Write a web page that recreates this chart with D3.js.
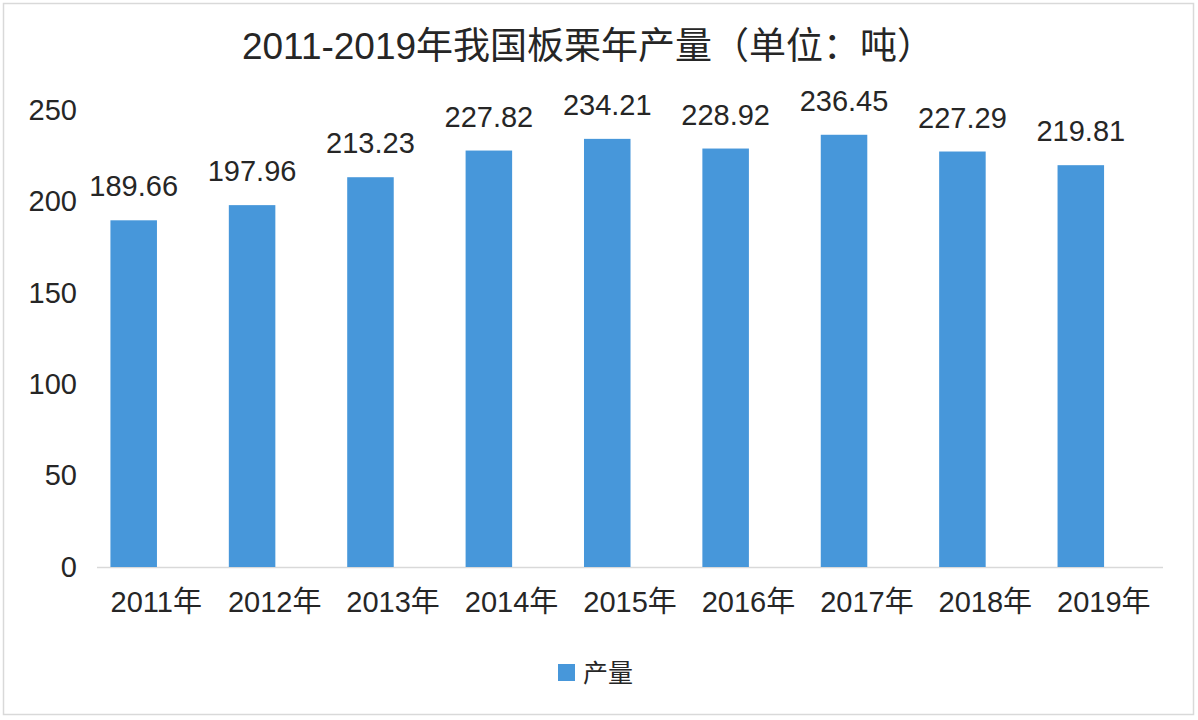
<!DOCTYPE html>
<html>
<head>
<meta charset="utf-8">
<script src="https://cdn.jsdelivr.net/npm/d3@7"></script>
<style>
  body { margin: 0; background: #fff; }
  text { font-family: "Liberation Sans", "Noto Sans CJK SC", sans-serif; fill: #262626; }
</style>
</head>
<body>
<div id="chart"></div>
<script>
// data
var years = ["2011年", "2012年", "2013年", "2014年", "2015年", "2016年", "2017年", "2018年", "2019年"];
var output = [189.66, 197.96, 213.23, 227.82, 234.21, 228.92, 236.45, 227.29, 219.81];
var yTicks = [0, 50, 100, 150, 200, 250];
var seriesName = "产量";
var title = "2011-2019年我国板栗年产量（单位：吨）";

var width = 1198;
var height = 720;
var barColor = "#4797da";

var data = years.map(function (y, i) {
  return { year: y, value: output[i] };
});

const svg = d3
  .select("div#chart")
  .append("svg")
  .attr("width", width)
  .attr("height", height);

// outer frame
svg
  .append("rect")
  .attr("x", 3.5)
  .attr("y", 3.5)
  .attr("width", 1190)
  .attr("height", 711)
  .attr("fill", "#fff")
  .attr("stroke", "#d9d9d9")
  .attr("stroke-width", 1.5);

// category axis spans 97..1163, the bars sit a bit left of their slots like the original
xAxisScale = d3.scaleBand().domain(years).range([97, 1163]);

x = d3
  .scaleBand()
  .domain(years)
  .range([74.5, 1140])
  .paddingInner(0.607)
  .paddingOuter(0.3035);

y = d3.scaleLinear().domain([0, 250]).range([567, 110]);

// axis base line
svg
  .append("line")
  .attr("x1", xAxisScale.range()[0])
  .attr("x2", xAxisScale.range()[1])
  .attr("y1", y(0) + 0.5)
  .attr("y2", y(0) + 0.5)
  .attr("stroke", "#d9d9d9")
  .attr("stroke-width", 1.5);

// bars
svg
  .append("g")
  .attr("class", "bars")
  .selectAll("rect")
  .data(data)
  .join("rect")
  .attr("x", (d) => x(d.year))
  .attr("y", (d) => y(d.value))
  .attr("width", x.bandwidth())
  .attr("height", (d) => y(0) - y(d.value))
  .attr("fill", barColor);

// value labels
svg
  .append("g")
  .attr("class", "labels")
  .selectAll("text")
  .data(data)
  .join("text")
  .attr("x", (d) => x(d.year) + x.bandwidth() / 2)
  .attr("y", (d) => y(d.value) - 24)
  .attr("text-anchor", "middle")
  .style("font-size", "29px")
  .text((d) => d.value.toFixed(2));

// y axis labels (no line, no ticks)
function yAxis(g) {
  g.attr("transform", "translate(77, 0)")
    .call(d3.axisLeft(y).tickValues(yTicks).tickSize(0).tickPadding(0))
    .call((g) => g.select(".domain").remove());
  g.selectAll("text").style("font-size", "29px").attr("fill", "#262626");
}
svg.append("g").attr("class", "yAxis").call(yAxis);

// x axis labels
function xAxis(g) {
  g.attr("transform", `translate(0, ${y(0)})`)
    .call(d3.axisBottom(xAxisScale).tickSize(0).tickPadding(24))
    .call((g) => g.select(".domain").remove());
  g.selectAll("text").style("font-size", "29px").attr("fill", "#262626");
}
svg.append("g").attr("class", "xAxis").call(xAxis);

// title
svg
  .append("text")
  .attr("x", 588)
  .attr("y", 59)
  .attr("text-anchor", "middle")
  .style("font-size", "37px")
  .text(title);

// legend
var legend = svg.append("g").attr("class", "legend").attr("transform", "translate(558, 664)");
legend.append("rect").attr("width", 17).attr("height", 17).attr("fill", barColor);
legend
  .append("text")
  .attr("x", 25)
  .attr("y", 18)
  .style("font-size", "25px")
  .attr("fill", "#404040")
  .text(seriesName);
</script>
</body>
</html>
